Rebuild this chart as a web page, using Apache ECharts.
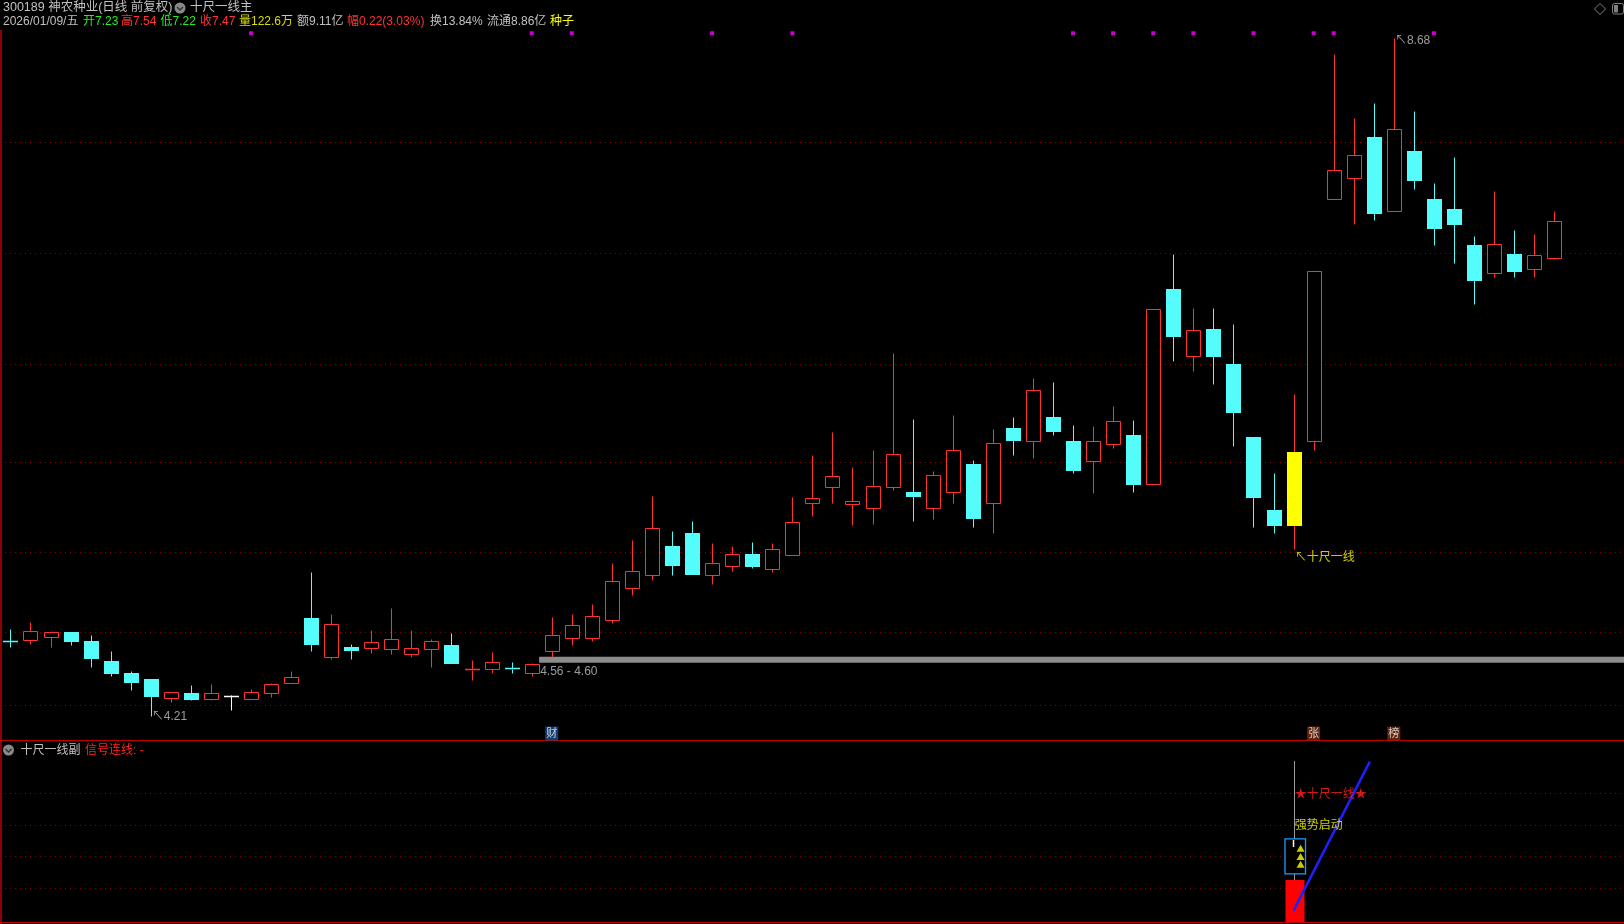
<!DOCTYPE html>
<html><head><meta charset="utf-8">
<script src="https://cdn.jsdelivr.net/npm/echarts@6/dist/echarts.min.js"></script>
<style>html,body{margin:0;padding:0;background:#000;overflow:hidden}#c{width:1624px;height:924px}</style>
</head><body><div id="c"></div>
<script>
// ---------- data ----------
const opens  = [4.705,4.71,4.73,4.76,4.70,4.57,4.49,4.45,4.33,4.36,4.32,4.34,4.32,4.36,4.425,4.855,4.60,4.665,4.655,4.65,4.62,4.65,4.675,4.51,4.52,4.525,4.49,4.635,4.72,4.72,4.84,5.05,5.135,5.33,5.415,5.135,5.195,5.275,5.18,5.27,5.615,5.715,5.605,5.58,5.715,5.685,5.58,5.685,5.87,5.615,6.105,6.02,6.18,6.02,5.89,6.00,6.06,5.74,7.025,6.58,6.76,6.53,6.05,5.565,5.465,6.02,7.62,7.755,8.025,7.54,7.935,7.615,7.55,7.315,7.13,7.255,7.155,7.23];
const highs  = [4.78,4.83,4.77,4.76,4.74,4.635,4.505,4.455,4.37,4.41,4.42,4.35,4.385,4.425,4.505,5.16,4.88,4.685,4.775,4.92,4.775,4.715,4.755,4.58,4.63,4.565,4.56,4.86,4.88,4.945,5.215,5.37,5.66,5.43,5.495,5.35,5.33,5.355,5.35,5.65,5.93,6.08,5.85,5.96,6.60,6.165,5.825,6.19,5.895,6.10,6.18,6.435,6.41,6.125,6.12,6.25,6.16,6.89,7.255,6.90,6.90,6.795,6.05,5.81,6.33,7.14,8.57,8.15,8.25,8.68,8.20,7.72,7.895,7.375,7.67,7.41,7.385,7.54];
const lows   = [4.665,4.685,4.665,4.68,4.53,4.47,4.38,4.21,4.30,4.315,4.315,4.245,4.32,4.335,4.425,4.64,4.585,4.585,4.625,4.615,4.595,4.53,4.555,4.445,4.49,4.495,4.475,4.60,4.68,4.705,4.825,5.005,5.105,5.14,5.145,5.08,5.165,5.185,5.16,5.27,5.53,5.61,5.47,5.475,5.70,5.495,5.51,5.61,5.455,5.415,5.93,5.91,6.06,5.81,5.68,5.975,5.685,5.74,6.55,6.485,6.395,5.99,5.455,5.415,5.31,5.96,7.62,7.455,7.475,7.54,7.685,7.315,7.195,6.925,7.105,7.105,7.105,7.22];
const closes = [4.70,4.77,4.76,4.70,4.59,4.49,4.435,4.34,4.37,4.32,4.36,4.34,4.37,4.42,4.465,4.685,4.815,4.645,4.695,4.715,4.66,4.70,4.555,4.52,4.565,4.52,4.55,4.74,4.81,4.865,5.10,5.165,5.445,5.205,5.145,5.22,5.275,5.20,5.31,5.485,5.645,5.79,5.625,5.725,5.935,5.66,5.795,5.965,5.515,6.005,6.025,6.355,6.085,5.83,6.02,6.155,5.74,6.89,6.715,6.755,6.585,6.215,5.65,5.47,5.95,7.14,7.805,7.91,7.525,8.075,7.745,7.425,7.45,7.085,7.32,7.145,7.25,7.47];

const gridPrices = [7.99, 7.26, 6.53, 5.88, 5.29, 4.76, 4.28];   // dotted price lines
const subGridValues = [1, 2, 3, 4];
const signalIdx = 64;                     // 十尺一线 signal candle
const dotIdx = [12, 26, 28, 35, 39, 53, 55, 57, 59, 62, 65, 66, 71];
const eventIdx = [27, 65, 69];
const eventText = ['财', '张', '榜'];
const gapRange = [4.56, 4.60];
const gapAfterIdx = 26;
// sub-panel indicator values
const subBarTop = 1.265, subStickTop = 5.02, subBoxLow = 1.46, subBoxHigh = 2.56;
const subTriangles = [2.27, 2.01, 1.76];
const subLineX = [64, 67.8], subLineY = [0.30, 5.0];
const subText1 = 3.96, subText2 = 2.98;
const volText = '122.6万', amtText = '9.11亿', turnText = '13.84%', floatText = '8.86亿';

// ---------- styles ----------
const RED = '#ff3232', CYAN = '#54fcfc', YEL = '#ffff00', WHITE = '#ffffff', GRAY = '#c0c0c0';
const GRIDRED = '#8c0000', BORDER = '#c00000';
const FONT = '"Liberation Sans","Noto Sans CJK SC",sans-serif';
const X_MIN = -0.519, X_MAX = 80.48;
const DOT_Y = 8.709, EVENT_Y = 4.093;

const candleData = opens.map((o, i) => [i, o, closes[i], lows[i], highs[i]]);

function renderCandle(params, api) {
  const i = api.value(0), o = api.value(1), c = api.value(2), l = api.value(3), h = api.value(4);
  const px = Math.round(api.coord([i, o])[0]) + 0.5;
  const yo = api.coord([i, o])[1], yc = api.coord([i, c])[1];
  const yH = Math.round(api.coord([i, h])[1]) + 0.5, yL = Math.round(api.coord([i, l])[1]) + 0.5;
  const top = Math.round(Math.min(yo, yc)) + 0.5, bot = Math.round(Math.max(yo, yc)) + 0.5;
  const half = 7;
  const sig = params.dataIndex === signalIdx;
  const up = c > o, flat = c === o;
  const col = flat ? WHITE : (up ? RED : CYAN);
  const wick = sig ? RED : col;
  const ch = [];
  if (yH < top) ch.push({type: 'line', shape: {x1: px, y1: yH, x2: px, y2: top}, style: {stroke: wick, lineWidth: 1}});
  if (yL > bot) ch.push({type: 'line', shape: {x1: px, y1: bot, x2: px, y2: yL}, style: {stroke: wick, lineWidth: 1}});
  if (bot - top < 1.5) {
    ch.push({type: 'line', shape: {x1: px - half - 0.5, y1: top, x2: px + half + 0.5, y2: top}, style: {stroke: col, lineWidth: 1.5}});
  } else if (sig) {
    ch.push({type: 'rect', shape: {x: px - half - 0.5, y: top - 0.5, width: 2 * half + 1, height: bot - top + 1}, style: {fill: YEL}});
  } else if (up) {
    ch.push({type: 'rect', shape: {x: px - half, y: top, width: 2 * half, height: bot - top}, style: {fill: '#000', stroke: RED, lineWidth: 1}});
  } else {
    ch.push({type: 'rect', shape: {x: px - half - 0.5, y: top - 0.5, width: 2 * half + 1, height: bot - top + 1}, style: {fill: CYAN}});
  }
  return {type: 'group', children: ch};
}

function renderSub(params, api) {
  const i = api.value(0);
  const px = Math.round(api.coord([i, 0])[0]) + 0.5;
  const cs = params.coordSys;
  const yBar = api.coord([i, api.value(1)])[1], yStick = api.coord([i, api.value(2)])[1];
  const yLo = api.coord([i, api.value(3)])[1], yHi = api.coord([i, api.value(4)])[1];
  const bottom = cs.y + cs.height;
  return {type: 'group', children: [
    {type: 'line', shape: {x1: px, y1: yStick, x2: px, y2: yBar}, style: {stroke: '#9a9a9a', lineWidth: 1}},
    {type: 'rect', shape: {x: px - 9.5, y: yHi, width: 20.5, height: yLo - yHi}, style: {fill: '#000', stroke: '#1e9bff', lineWidth: 1.3}},
    {type: 'line', shape: {x1: px - 1, y1: yHi + 1, x2: px - 1, y2: yHi + 8}, style: {stroke: '#ffffff', lineWidth: 1.5}},
    {type: 'rect', shape: {x: px - 9, y: yBar, width: 19, height: bottom - yBar}, style: {fill: '#ff0000'}}
  ]};
}

const lowVal = Math.min(...lows), lowIdx = lows.indexOf(lowVal);
const highVal = Math.max(...highs), highIdx = highs.indexOf(highVal);
const n = closes.length;
const lastO = opens[n - 1], lastH = highs[n - 1], lastL = lows[n - 1], lastC = closes[n - 1];
const chg = lastC - closes[n - 2], pct = chg / closes[n - 2] * 100;

function labelSeries(xi, yi, gx, yv, text, color, offset, extra) {
  return Object.assign({
    type: 'scatter', xAxisIndex: xi, yAxisIndex: yi, z: 6, silent: true,
    symbolSize: 0.1, itemStyle: {color: 'rgba(0,0,0,0)'},
    data: [[gx, yv]],
    label: {show: true, position: 'right', distance: 1, offset: offset || [0, 0],
      formatter: text, color: color, fontSize: 12, fontFamily: FONT}
  }, extra || {});
}

function txt(x, y, s, color, size) {
  return {type: 'text', x: x, y: y, style: {text: s, fill: color, font: (size || 12) + 'px ' + FONT, textVerticalAlign: 'middle'}};
}
function icon(cx, cy) {
  return {type: 'group', children: [
    {type: 'circle', shape: {cx: cx, cy: cy, r: 5.5}, style: {fill: '#8a8a8a'}},
    {type: 'polyline', shape: {points: [[cx - 3, cy - 1], [cx, cy + 2], [cx + 3, cy - 1]]}, style: {stroke: '#333', lineWidth: 1.5, fill: null}}
  ]};
}

const header2 = [
  ['2026/01/09/五', 3, GRAY],
  ['开' + lastO.toFixed(2), 83, '#22ee22'],
  ['高' + lastH.toFixed(2), 121, RED],
  ['低' + lastL.toFixed(2), 160.5, '#22ee22'],
  ['收' + lastC.toFixed(2), 200, RED],
  ['量' + volText, 239, '#dcdc00'],
  ['额' + amtText, 297, GRAY],
  ['幅' + chg.toFixed(2) + '(' + pct.toFixed(2) + '%)', 347, RED],
  ['换' + turnText, 430, GRAY],
  ['流通' + floatText, 487, GRAY],
  ['种子', 550, YEL]
];

const graphics = [
  {type: 'line', shape: {x1: 1, y1: 30, x2: 1, y2: 924}, style: {stroke: BORDER, lineWidth: 1.5}},
  {type: 'line', shape: {x1: 0, y1: 740.5, x2: 1624, y2: 740.5}, style: {stroke: BORDER, lineWidth: 1}},
  {type: 'line', shape: {x1: 0, y1: 922.5, x2: 1624, y2: 922.5}, style: {stroke: BORDER, lineWidth: 1}},
  txt(3, 8, '300189 神农种业(日线 前复权)', GRAY, 12.5),
  icon(180, 8),
  txt(190, 8, '十尺一线主', GRAY, 12.5),
  icon(8.5, 750),
  txt(20.5, 751, '十尺一线副', GRAY),
  txt(85, 751, '信号连线: -', '#ff2020'),
  {type: 'polygon', shape: {points: [[1600, 3.5], [1605.5, 9], [1600, 14.5], [1594.5, 9]]}, style: {fill: null, stroke: '#808080', lineWidth: 1}},
  {type: 'rect', shape: {x: 1612.5, y: 3.5, width: 11, height: 10.5, r: 2}, style: {fill: null, stroke: '#808080', lineWidth: 1}},
  {type: 'rect', shape: {x: 1614, y: 5, width: 4, height: 7.5}, style: {fill: '#808080'}}
].concat(header2.map(h => txt(h[1], 22, h[0], h[2])));

const option = {
  backgroundColor: '#000',
  animation: false,
  grid: [
    {left: 0, right: 0, top: 0, height: 740},
    {left: 0, right: 0, top: 742, height: 180}
  ],
  xAxis: [
    {type: 'value', gridIndex: 0, min: X_MIN, max: X_MAX, show: false},
    {type: 'value', gridIndex: 1, min: X_MIN, max: X_MAX, show: false}
  ],
  yAxis: [
    {type: 'value', gridIndex: 0, min: 4.0505, max: 8.9285, show: false},
    {type: 'value', gridIndex: 1, min: -0.06, max: 5.62, show: false}
  ],
  graphic: graphics,
  series: [
    // magenta signal dots + dotted price lines
    {type: 'scatter', xAxisIndex: 0, yAxisIndex: 0, z: 1, silent: true, symbol: 'rect', symbolSize: 4,
      itemStyle: {color: '#ff00ff'}, data: dotIdx.map(i => [i, DOT_Y]),
      markLine: {silent: true, z: 0, symbol: ['none', 'none'], label: {show: false},
        lineStyle: {color: GRIDRED, type: [1, 4], width: 1}, data: gridPrices.map(v => ({yAxis: v}))}},
    // candles
    {type: 'custom', xAxisIndex: 0, yAxisIndex: 0, z: 8, renderItem: renderCandle, data: candleData,
      encode: {x: 0, y: [1, 2, 3, 4]}},
    // gap band and its label
    labelSeries(0, 0, gapAfterIdx + 0.37, gapRange[0], gapRange[0].toFixed(2) + ' - ' + gapRange[1].toFixed(2), GRAY, [0, 9], {
      markArea: {silent: true, z: 1, itemStyle: {color: '#8c8c8c'},
        data: [[{xAxis: gapAfterIdx + 0.37, yAxis: gapRange[0]}, {xAxis: X_MAX, yAxis: gapRange[1]}]]}}),
    labelSeries(0, 0, lowIdx, lowVal, '↖' + lowVal.toFixed(2), GRAY, [0, 1]),
    labelSeries(0, 0, highIdx, highVal, '↖' + highVal.toFixed(2), GRAY, [0, 3]),
    labelSeries(0, 0, signalIdx, lows[signalIdx], '↖十尺一线', YEL, [0, 9]),
    // event badges
    {type: 'scatter', xAxisIndex: 0, yAxisIndex: 0, z: 9, silent: true, symbol: 'rect', symbolSize: [13, 14],
      data: eventIdx.map((i, k) => ({value: [i, EVENT_Y], name: eventText[k],
        itemStyle: {color: k === 0 ? '#1a4d8c' : '#7a2e12'}})),
      label: {show: true, position: 'inside', formatter: p => p.name, color: '#f0f0f0', fontSize: 11, fontFamily: FONT}},
    // sub panel grid lines
    {type: 'scatter', xAxisIndex: 1, yAxisIndex: 1, z: 1, silent: true, symbolSize: 0.1,
      itemStyle: {color: 'rgba(0,0,0,0)'}, data: [[0, 0]],
      markLine: {silent: true, z: 0, symbol: ['none', 'none'], label: {show: false},
        lineStyle: {color: GRIDRED, type: [1, 4], width: 1}, data: subGridValues.map(v => ({yAxis: v}))}},
    // sub panel signal bar / stick / box
    {type: 'custom', xAxisIndex: 1, yAxisIndex: 1, z: 3, renderItem: renderSub,
      data: [[signalIdx, subBarTop, subStickTop, subBoxLow, subBoxHigh]], encode: {x: 0, y: [1, 2, 3, 4]}},
    {type: 'scatter', xAxisIndex: 1, yAxisIndex: 1, z: 4, silent: true, symbol: 'triangle', symbolSize: [8, 7],
      symbolOffset: [7, 0], itemStyle: {color: YEL}, data: subTriangles.map(v => [signalIdx, v])},
    {type: 'line', xAxisIndex: 1, yAxisIndex: 1, z: 5, silent: true, symbol: 'none',
      lineStyle: {color: '#1f1fff', width: 2.5}, data: subLineX.map((x, k) => [x, subLineY[k]])},
    labelSeries(1, 1, signalIdx, subText1, '★十尺一线★', '#ff2020', [0, 0]),
    labelSeries(1, 1, signalIdx, subText2, '强势启动', YEL, [0, 0])
  ]
};
const chart = echarts.init(document.getElementById('c'), null, {renderer: 'canvas'});
chart.setOption(option);
</script></body></html>
